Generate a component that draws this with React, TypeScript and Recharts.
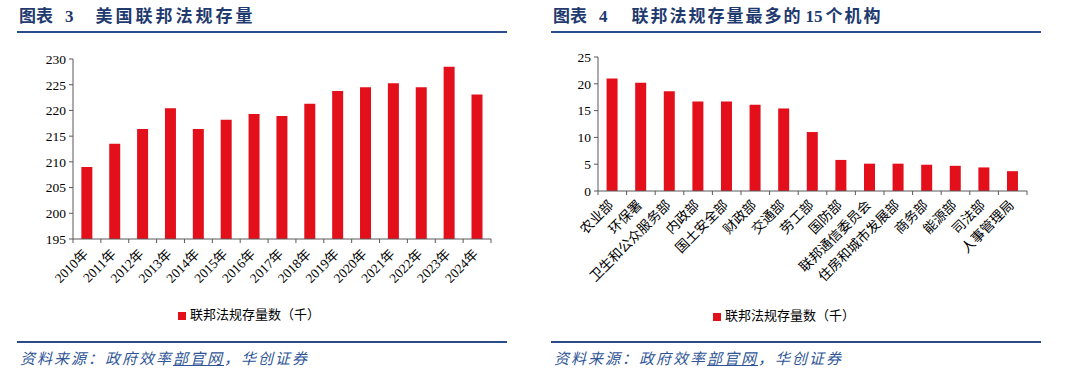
import React from "react";
import { BarChart, Bar, XAxis, YAxis, Legend } from "recharts";

const years = ["2010年", "2011年", "2012年", "2013年", "2014年", "2015年", "2016年", "2017年", "2018年", "2019年", "2020年", "2021年", "2022年", "2023年", "2024年"];
const regStock = [209.0, 213.5, 216.4, 220.4, 216.4, 218.2, 219.3, 218.9, 221.3, 223.8, 224.5, 225.3, 224.5, 228.5, 223.1];

const agencies = ["农业部", "环保署", "卫生和公众服务部", "内政部", "国土安全部", "财政部", "交通部", "劳工部", "国防部", "联邦通信委员会", "住房和城市发展部", "商务部", "能源部", "司法部", "人事管理局"];
const agencyStock = [21.0, 20.2, 18.6, 16.7, 16.7, 16.1, 15.4, 11.0, 5.8, 5.1, 5.1, 4.9, 4.7, 4.4, 3.7];

const yearTicks = [195, 200, 205, 210, 215, 220, 225, 230];
const agencyTicks = [0, 5, 10, 15, 20, 25];

const seriesName = "联邦法规存量数（千）";

const RED = "#E3101B";
const AXIS = "#595959";
const TITLE = "#1F3A6E";
const RULE = "#2B4C8C";
const SOURCE = "#2F5597";
const SERIF = "'Liberation Serif', 'Noto Sans CJK SC', serif";

const yearData = years.map((y, i) => ({ name: y, value: regStock[i] }));
const agencyData = agencies.map((a, i) => ({ name: a, value: agencyStock[i] }));

// x labels rotated 45deg, tick marks sit between the bars
function SlantTick(props: any) {
  const { x, y, payload, index, visibleTicksCount, width, fontSize, dx = 0, dy = 0 } = props;
  const half =
    payload && typeof payload.offset === "number" && payload.offset > 0
      ? payload.offset
      : width / visibleTicksCount / 2;
  const axisY = y - 6;
  const tx = x + dx;
  const ty = y + dy;
  return (
    <g>
      <line x1={x - half} x2={x - half} y1={axisY} y2={axisY + 4} stroke={AXIS} />
      {index === visibleTicksCount - 1 && (
        <line x1={x + half} x2={x + half} y1={axisY} y2={axisY + 4} stroke={AXIS} />
      )}
      <text
        x={tx}
        y={ty}
        transform={`rotate(-45 ${tx} ${ty})`}
        textAnchor="end"
        fontSize={fontSize}
        fontFamily={SERIF}
        fill="#000"
      >
        {payload.value}
      </text>
    </g>
  );
}

function Panel({ left, children, title }: { left: number; children: React.ReactNode; title: React.ReactNode }) {
  return (
    <>
      <div
        style={{
          position: "absolute",
          left: left + 2,
          top: 6,
          fontFamily: SERIF,
          fontWeight: "bold",
          color: TITLE,
          whiteSpace: "pre",
          lineHeight: "22px",
        }}
      >
        {title}
      </div>
      <div style={{ position: "absolute", left, top: 31, width: 490, height: 2, background: RULE }} />
      <div style={{ position: "absolute", left, top: 40 }}>{children}</div>
      <div style={{ position: "absolute", left, top: 341, width: 490, height: 2, background: RULE }} />
      <div
        style={{
          position: "absolute",
          left: left + 3,
          top: 348,
          fontFamily: "'Noto Sans CJK SC', sans-serif",
          fontStyle: "italic",
          fontSize: 15,
          letterSpacing: 2,
          color: SOURCE,
          whiteSpace: "pre",
          lineHeight: "20px",
        }}
      >
        资料来源：政府效率<span style={{ textDecoration: "underline" }}>部官网</span>，华创证券
      </div>
    </>
  );
}

const legendText = (v: string) => <span style={{ color: "#000" }}>{v}</span>;

export default function App() {
  return (
    <div style={{ position: "absolute", left: 0, top: 0, width: 1080, height: 378, background: "#fff", overflow: "hidden" }}>
      <Panel
        left={17}
        title={
          <>
            <span style={{ fontSize: 17 }}>图表</span>
            <span style={{ fontSize: 17, marginLeft: 12 }}>3</span>
            <span style={{ fontSize: 17, marginLeft: 22, letterSpacing: 3 }}>美国联邦法规存量</span>
          </>
        }
      >
        <BarChart width={490} height={290} data={yearData} margin={{ top: 19, right: 16, bottom: 31, left: 0 }} barCategoryGap="30%">
          <XAxis
            dataKey="name"
            interval={0}
            height={60}
            tickLine={false}
            tickSize={4}
            tickMargin={2}
            axisLine={{ stroke: AXIS }}
            tick={<SlantTick fontSize={13.5} dx={2} dy={10} />}
          />
          <YAxis
            width={56}
            domain={[195, 230]}
            ticks={yearTicks}
            allowDataOverflow
            tickSize={4}
            tickMargin={3}
            axisLine={{ stroke: AXIS }}
            tickLine={{ stroke: AXIS }}
            tick={{ fill: "#000", fontSize: 13.5, fontFamily: SERIF }}
          />
          <Legend
            verticalAlign="middle"
            align="center"
            iconType="square"
            iconSize={8}
            formatter={legendText}
            wrapperStyle={{ top: 264, fontSize: 13, fontFamily: SERIF }}
          />
          <Bar dataKey="value" name={seriesName} fill={RED} isAnimationActive={false} />
        </BarChart>
      </Panel>

      <Panel
        left={551}
        title={
          <>
            <span style={{ fontSize: 17 }}>图表</span>
            <span style={{ fontSize: 17, marginLeft: 12 }}>4</span>
            <span style={{ fontSize: 17, marginLeft: 24, letterSpacing: 2 }}>联邦法规存量最多的</span>
            <span style={{ fontSize: 17, marginLeft: 3 }}>15</span>
            <span style={{ fontSize: 17, marginLeft: 3, letterSpacing: 2 }}>个机构</span>
          </>
        }
      >
        <BarChart width={490} height={290} data={agencyData} margin={{ top: 17, right: 14, bottom: 29, left: 0 }} barCategoryGap="30%">
          <XAxis
            dataKey="name"
            interval={0}
            height={110}
            tickLine={false}
            tickSize={4}
            tickMargin={2}
            axisLine={{ stroke: AXIS }}
            tick={<SlantTick fontSize={13.5} dx={2} dy={9} />}
          />
          <YAxis
            width={47}
            domain={[0, 25]}
            ticks={agencyTicks}
            tickSize={4}
            tickMargin={3}
            axisLine={{ stroke: AXIS }}
            tickLine={{ stroke: AXIS }}
            tick={{ fill: "#000", fontSize: 13.5, fontFamily: SERIF }}
          />
          <Legend
            verticalAlign="middle"
            align="center"
            iconType="square"
            iconSize={8}
            formatter={legendText}
            wrapperStyle={{ top: 265, fontSize: 13, fontFamily: SERIF }}
          />
          <Bar dataKey="value" name={seriesName} fill={RED} isAnimationActive={false} />
        </BarChart>
      </Panel>
    </div>
  );
}
